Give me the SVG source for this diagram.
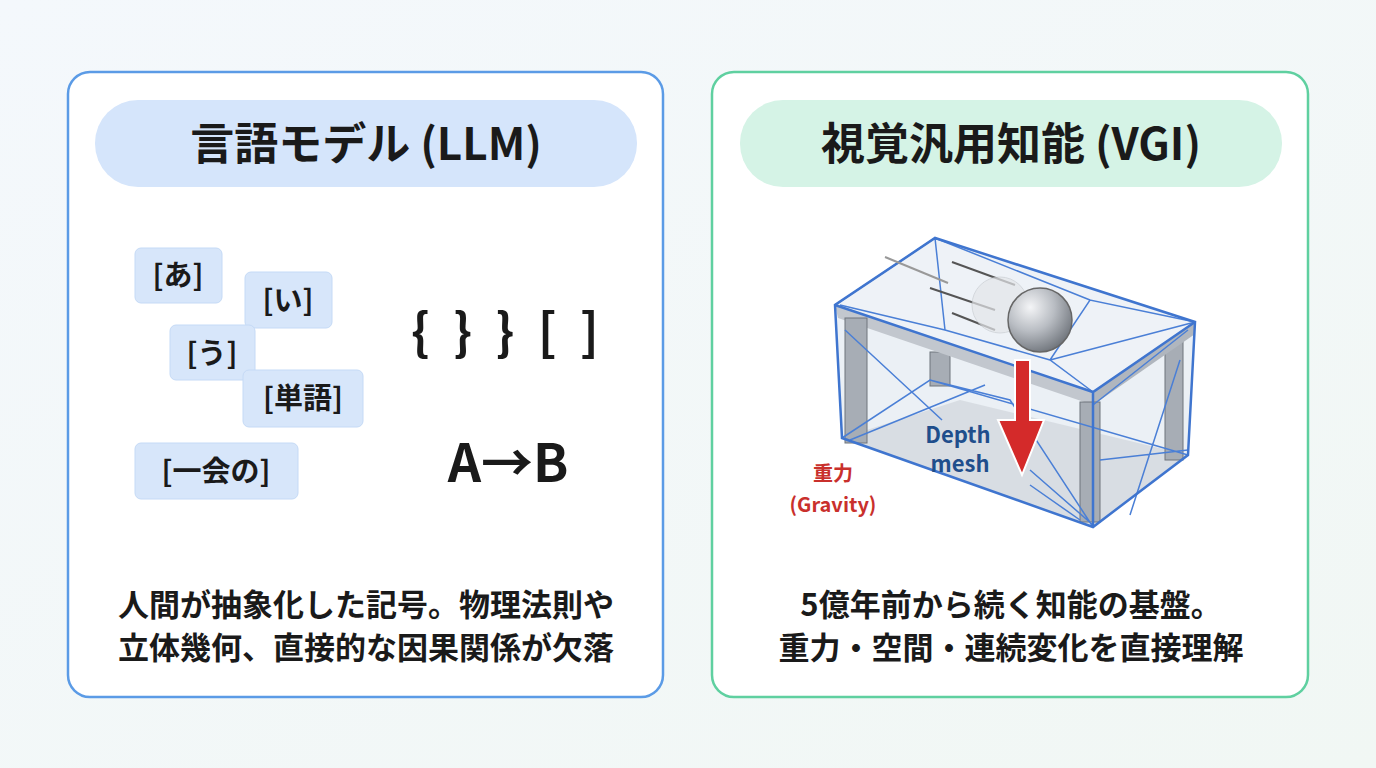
<svg xmlns="http://www.w3.org/2000/svg" width="1376" height="768" viewBox="0 0 1376 768">
<defs>
<style>
text{font-family:"Noto Sans CJK JP","Noto Sans",sans-serif;font-weight:bold;text-anchor:middle;fill:#1a1a1a}
.tok{fill:#d7e6fa;stroke:#c5daf6}
.tt{font-size:29px}
.cap{font-size:31px}
.mesh{stroke:#4a7fd6;stroke-width:1.5;fill:none}
.edge{stroke:#3f75cf;stroke-width:2.5;fill:none}
.leg{fill:#a7adb5;stroke:#6e757d;stroke-width:1}
</style>
<linearGradient id="bg" x1="0" y1="0" x2="1" y2="1"><stop offset="0" stop-color="#f4f8fc"/><stop offset="1" stop-color="#f1f7f4"/></linearGradient>
<radialGradient id="ball" cx="0.35" cy="0.3" r="0.75"><stop offset="0" stop-color="#f4f5f7"/><stop offset="0.5" stop-color="#b9bdc3"/><stop offset="1" stop-color="#6f747b"/></radialGradient>
</defs>
<rect width="1376" height="768" fill="url(#bg)"/>
<g id="panel-llm">
<rect x="68" y="72" width="595" height="625" rx="22" fill="#fff" stroke="#5b9be6" stroke-width="2.5"/>
<rect x="95" y="100" width="542" height="87" rx="43" fill="#d5e5fb"/>
<text x="366" y="160" font-size="44">言語モデル (LLM)</text>
</g>
<g id="tokens">
<rect class="tok" x="135" y="248" width="87" height="55" rx="6"/><text class="tt" x="178" y="286">[あ]</text>
<rect class="tok" x="245" y="272" width="87" height="56" rx="6"/><text class="tt" x="288" y="311">[い]</text>
<rect class="tok" x="170" y="325" width="85" height="55" rx="6"/><text class="tt" x="212" y="364">[う]</text>
<rect class="tok" x="243" y="370" width="120" height="57" rx="6"/><text class="tt" x="303" y="409">[単語]</text>
<rect class="tok" x="135" y="443" width="163" height="56" rx="6"/><text class="tt" x="216" y="482">[一会の]</text>
<text x="508" y="350" font-size="50" letter-spacing="6">{ } } [ ]</text>
<text x="508" y="482" font-size="52" font-family="Noto Sans,sans-serif">A→B</text>
</g>
<g id="llm-caption">
<text class="cap" x="366" y="616">人間が抽象化した記号。物理法則や</text>
<text class="cap" x="366" y="659">立体幾何、直接的な因果関係が欠落</text>
</g>
<g id="panel-vgi">
<rect x="712" y="72" width="596" height="625" rx="22" fill="#fff" stroke="#5fd0a0" stroke-width="2.5"/>
<rect x="740" y="100" width="542" height="87" rx="43" fill="#d5f3e6"/>
<text x="1011" y="160" font-size="44">視覚汎用知能 (VGI)</text>
</g>
<g id="scene">
<polygon points="835,305 842,438 1093,527 1188,455 1195,322 935,238" fill="#e6ecf3" opacity="0.8"/>
<polygon points="842,438 1093,527 1188,455 960,400" fill="#d3d8de" opacity="0.8"/>
<rect class="leg" x="930" y="352" width="20" height="34"/>
<rect class="leg" x="1165" y="340" width="18" height="120"/>
<polygon points="835,305 935,238 1195,322 1093,392" fill="#eef2f7" stroke="#c4cbd4"/>
<polygon points="835,305 1093,392 1093,405 838,318" fill="#c2c7ce"/>
<polygon points="1093,392 1195,322 1195,334 1093,405" fill="#b0b6be"/>
<rect class="leg" x="845" y="318" width="22" height="125"/>
<rect class="leg" x="1080" y="402" width="20" height="120"/>
<g class="mesh">
<path d="M835,305 L935,238 M935,238 L945,330 L840,305 M945,330 L1050,360 L1093,392 M1050,360 L1195,322 L1090,300 L1050,360 M935,238 L1090,300"/>
<path d="M842,438 L930,380 L1010,400 L1093,527 M845,330 L942,420 M930,380 L1188,455 M1093,405 L1188,330 M1100,460 L1188,450 M1180,360 L1130,515 M1030,470 L1093,525 M1030,485 L1080,520 M850,440 L985,385"/>
</g>
<polygon points="835,305 842,438 1093,527 1188,455 1195,322 935,238" class="edge"/>
<path class="edge" d="M835,305 L1093,392 L1195,322 M1093,392 L1093,527"/>
<g stroke="#555" stroke-width="2">
<line x1="885" y1="257" x2="948" y2="283" stroke="#999"/>
<line x1="952" y1="262" x2="1015" y2="285"/>
<line x1="930" y1="288" x2="995" y2="310"/>
<line x1="952" y1="313" x2="995" y2="330"/>
</g>
<circle cx="1000" cy="305" r="28" fill="#e4e6e9" stroke="#c9cdd2" opacity="0.7"/>
<circle cx="1040" cy="320" r="32" fill="url(#ball)" stroke="#666" stroke-width="1.5"/>
<polygon points="1015,360 1030,360 1030,420 1044,420 1022,475 998,420 1015,420" fill="#d42a2a" stroke="#fff" stroke-width="2"/>
<text x="958" y="443" font-size="22" style="fill:#1f4e8c">Depth</text>
<text x="960" y="472" font-size="22" style="fill:#1f4e8c">mesh</text>
<text x="833" y="481" font-size="20" style="fill:#c9302c">重力</text>
<text x="833" y="512" font-size="20" style="fill:#c9302c">(Gravity)</text>
</g>
<g id="vgi-caption">
<text class="cap" x="1011" y="616">5億年前から続く知能の基盤。</text>
<text class="cap" x="1011" y="659">重力・空間・連続変化を直接理解</text>
</g>
<g id="connectors"/>
</svg>
